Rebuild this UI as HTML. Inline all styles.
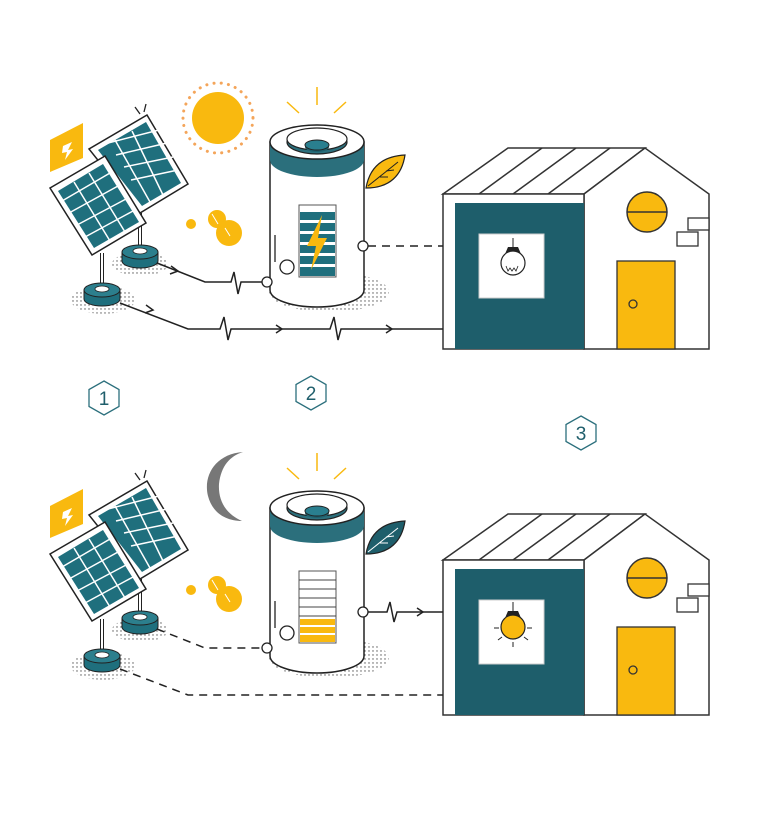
<!DOCTYPE html>
<html><head><meta charset="utf-8"><style>
html,body{margin:0;padding:0;background:#fff;width:768px;height:813px;overflow:hidden}
svg{display:block}
</style></head><body>
<svg width="768" height="813" viewBox="0 0 768 813" xmlns="http://www.w3.org/2000/svg">
<defs>
<pattern id="dots" width="4" height="4" patternUnits="userSpaceOnUse"><circle cx="1" cy="1" r="0.7" fill="#555"/></pattern>
<g id="panels">
  <polygon points="50,140 83,123 83,158 50,172" fill="#f9b90f"/>
  <polygon points="63,146 72,142 68,150 73,149 65,160 67,152 62,153" fill="#fff"/>
  <ellipse cx="103" cy="300" rx="32" ry="14" fill="url(#dots)"/>
  <ellipse cx="140" cy="264" rx="28" ry="12" fill="url(#dots)"/>
  <polygon points="147,115 89,149 140,213 188,184" fill="#fff" stroke="#222" stroke-width="1.5"/>
  <polygon points="146,122 98,150 142,206 181,183" fill="#1f6f7d"/>
  <g stroke="#fff" stroke-width="1.5">
   <line x1="108" y1="143" x2="159" y2="130"/><line x1="116" y1="155" x2="167" y2="143"/><line x1="124" y1="167" x2="173" y2="157"/><line x1="131" y1="180" x2="178" y2="170"/>
   <line x1="115" y1="140" x2="150" y2="202"/><line x1="132" y1="131" x2="163" y2="195"/>
  </g>
  <line x1="140" y1="213" x2="140" y2="248" stroke="#222" stroke-width="4"/><line x1="140" y1="213" x2="140" y2="248" stroke="#fff" stroke-width="2"/>
  <path d="M122 252 L122 261 A18 7 0 0 0 158 261 L158 252 Z" fill="#1f6f7d" stroke="#222" stroke-width="1"/>
  <ellipse cx="140" cy="252" rx="18" ry="7" fill="#2c7f8d" stroke="#222" stroke-width="1"/>
  <ellipse cx="140" cy="251" rx="7" ry="3" fill="#fff" stroke="#222" stroke-width="0.8"/>
  <polygon points="50,188 105,156 146,223 92,255" fill="#fff" stroke="#222" stroke-width="1.5"/>
  <polygon points="58,191 103,164 139,222 94,248" fill="#1f6f7d"/>
  <g stroke="#fff" stroke-width="1.5">
   <line x1="62" y1="201" x2="110" y2="173"/><line x1="69" y1="213" x2="118" y2="186"/><line x1="77" y1="225" x2="126" y2="199"/><line x1="85" y1="237" x2="133" y2="211"/>
   <line x1="74" y1="182" x2="110" y2="241"/><line x1="89" y1="173" x2="125" y2="232"/>
  </g>
  <line x1="102" y1="253" x2="102" y2="287" stroke="#222" stroke-width="4"/><line x1="102" y1="253" x2="102" y2="287" stroke="#fff" stroke-width="2"/>
  <path d="M84 290 L84 299 A18 7 0 0 0 120 299 L120 290 Z" fill="#1f6f7d" stroke="#222" stroke-width="1"/>
  <ellipse cx="102" cy="290" rx="18" ry="7" fill="#2c7f8d" stroke="#222" stroke-width="1"/>
  <ellipse cx="102" cy="289" rx="7" ry="3" fill="#fff" stroke="#222" stroke-width="0.8"/>
  <line x1="135" y1="107" x2="140" y2="114" stroke="#222" stroke-width="1.3"/><line x1="146" y1="104" x2="144" y2="112" stroke="#222" stroke-width="1.3"/>
  <circle cx="191" cy="224" r="5" fill="#f9b90f"/>
  <circle cx="217" cy="219" r="9" fill="#f9b90f"/>
  <circle cx="229" cy="233" r="13" fill="#f9b90f"/>
  <path d="M212 214 l6 10 M225 228 l5 8" stroke="#fff" stroke-width="1"/>
</g>
<g id="batt">
  <ellipse cx="329" cy="292" rx="60" ry="20" fill="url(#dots)"/>
  <path d="M270 142 L270 290 A47 17 0 0 0 364 290 L364 142 Z" fill="#fff" stroke="#222" stroke-width="1.5"/>
  <path d="M270 142 A47 17 0 0 0 364 142 L364 160 A47 17 0 0 1 270 160 Z" fill="#2b6f7c"/>
  <ellipse cx="317" cy="142" rx="47" ry="17" fill="#fff" stroke="#222" stroke-width="1.5"/>
  <ellipse cx="317" cy="142" rx="30" ry="12" fill="#2b6f7c" stroke="#222" stroke-width="1.2"/>
  <ellipse cx="317" cy="139" rx="30" ry="11" fill="#fff" stroke="#222" stroke-width="1.2"/>
  <ellipse cx="317" cy="147" rx="12" ry="5" fill="#1e5f6c"/>
  <ellipse cx="317" cy="145" rx="12" ry="5" fill="#2a7f8f" stroke="#222" stroke-width="1"/>
  <line x1="317" y1="87" x2="317" y2="105" stroke="#f9b90f" stroke-width="1.5"/>
  <line x1="287" y1="102" x2="299" y2="113" stroke="#f9b90f" stroke-width="1.5"/>
  <line x1="346" y1="102" x2="334" y2="113" stroke="#f9b90f" stroke-width="1.5"/>
  <line x1="275" y1="235" x2="275" y2="262" stroke="#222" stroke-width="1.3"/>
  <circle cx="287" cy="267" r="7" fill="#fff" stroke="#222" stroke-width="1.3"/>
  <circle cx="267" cy="282" r="5" fill="#fff" stroke="#222" stroke-width="1.3"/>
  <circle cx="363" cy="246" r="5" fill="#fff" stroke="#222" stroke-width="1.3"/>
</g>
<g id="house">
  <polygon points="443,194 508,148 645,148 584,194" fill="#fff" stroke="#333" stroke-width="1.5"/>
  <line x1="479" y1="194" x2="542" y2="148" stroke="#333" stroke-width="1.5"/>
  <line x1="513" y1="194" x2="576" y2="148" stroke="#333" stroke-width="1.5"/>
  <line x1="548" y1="194" x2="610" y2="148" stroke="#333" stroke-width="1.5"/>
  <polygon points="584,194 645,148 709,194 709,349 584,349" fill="#fff" stroke="#333" stroke-width="1.5"/>
  <rect x="443" y="194" width="141" height="155" fill="#fff" stroke="#333" stroke-width="1.5"/>
  <rect x="455" y="203" width="129" height="146" fill="#1e5e6b"/>
  <rect x="479" y="234" width="65" height="64" fill="#fff" stroke="#ccc" stroke-width="1"/>
  <circle cx="647" cy="212" r="20" fill="#f9b90f" stroke="#333" stroke-width="1.5"/>
  <line x1="627" y1="212" x2="667" y2="212" stroke="#333" stroke-width="1.5"/>
  <rect x="688" y="218" width="21" height="12" fill="#fff" stroke="#333" stroke-width="1.3"/>
  <rect x="677" y="232" width="21" height="14" fill="#fff" stroke="#333" stroke-width="1.3"/>
  <rect x="617" y="261" width="58" height="88" fill="#f9b90f" stroke="#333" stroke-width="1.3"/>
  <circle cx="633" cy="304" r="4" fill="none" stroke="#333" stroke-width="1.3"/>
</g>
</defs>

<use href="#panels"/>
<circle cx="218" cy="118" r="35" fill="none" stroke="#f4a55a" stroke-width="3" stroke-dasharray="0.1 7.2" stroke-linecap="round"/>
<circle cx="218" cy="118" r="26" fill="#f9b90f"/>
<use href="#batt"/>
<rect x="299" y="205" width="37" height="72" fill="#fff" stroke="#555" stroke-width="1"/>
<g fill="#1f6f7d"><rect x="300" y="212" width="35" height="8"/><rect x="300" y="223" width="35" height="8"/><rect x="300" y="234" width="35" height="8"/><rect x="300" y="245" width="35" height="8"/><rect x="300" y="256" width="35" height="8"/><rect x="300" y="267" width="35" height="9"/></g>
<polygon points="322,215 307,246 316,246 311,270 327,238 318,238" fill="#f9b90f"/>
<path d="M366 188 C370 165 385 156 405 155 C402 175 390 188 366 188 Z" fill="#f9b90f" stroke="#222" stroke-width="1.2"/>
<path d="M368 186 L398 162 M380 177 l8 0 M386 171 l8 -1" stroke="#222" stroke-width="1"/>
<use href="#house"/>
<line x1="513" y1="238" x2="513" y2="248" stroke="#222" stroke-width="1"/>
<path d="M505 254 L508 247 L518 247 L521 254 Z" fill="#222"/>
<circle cx="513" cy="263" r="12" fill="#fff" stroke="#222" stroke-width="1.2"/>
<path d="M506 266 l2 5 l2 -3 l2 3 l2 -3 l2 3 l2 -5" fill="none" stroke="#222" stroke-width="0.8"/>
<g fill="none" stroke="#222" stroke-width="1.5">
<path d="M157 263 L205 282 L231 282 L234 272 L238 294 L241 282 L262 282"/>
<path d="M120 303 L188 329 L220 329 L224 317 L228 340 L231 329 L330 329 L334 317 L338 340 L341 329 L443 329"/>
<path d="M171 266 l7 5 l-8 3 M146 305 l7 5 l-8 3 M276 325 l6 4 l-6 4 M386 325 l6 4 l-6 4"/>
<path d="M368 246 L443 246" stroke-dasharray="8 6"/>
</g>

<g fill="none" stroke="#2b6f7c" stroke-width="1.3">
<polygon points="104,381 119,389.5 119,406.5 104,415 89,406.5 89,389.5"/>
<polygon points="311,376 326,384.5 326,401.5 311,410 296,401.5 296,384.5"/>
<polygon points="581,416 596,424.5 596,441.5 581,450 566,441.5 566,424.5"/>
</g>
<g font-family="Liberation Sans, sans-serif" font-size="19" fill="#1f5e6b" text-anchor="middle">
<text x="104" y="405">1</text><text x="311" y="400">2</text><text x="581" y="440">3</text>
</g>

<g transform="translate(0,366)">
<use href="#panels"/>
<path d="M243 86 C215 88 203 110 208 130 C212 146 225 155 242 155 C226 148 218 135 219 118 C221 100 230 90 243 86 Z" fill="#777"/>
<use href="#batt"/>
<rect x="299" y="205" width="37" height="72" fill="#fff" stroke="#555" stroke-width="1"/>
<g stroke="#444" stroke-width="1"><line x1="299" y1="214" x2="336" y2="214"/><line x1="299" y1="223" x2="336" y2="223"/><line x1="299" y1="232" x2="336" y2="232"/><line x1="299" y1="241" x2="336" y2="241"/><line x1="299" y1="250" x2="336" y2="250"/></g>
<g fill="#f9b90f"><rect x="300" y="253" width="35" height="6"/><rect x="300" y="261" width="35" height="6"/><rect x="300" y="269" width="35" height="7"/></g>
<path d="M366 188 C370 165 385 156 405 155 C402 175 390 188 366 188 Z" fill="#1e5e6b" stroke="#222" stroke-width="1.2"/>
<path d="M368 186 L398 162 M380 177 l8 0 M386 171 l8 -1" stroke="#fff" stroke-width="1"/>
<use href="#house"/>
<line x1="513" y1="236" x2="513" y2="246" stroke="#222" stroke-width="1"/>
<path d="M505 252 L508 245 L518 245 L521 252 Z" fill="#222"/>
<circle cx="513" cy="261" r="12" fill="#f9b90f" stroke="#222" stroke-width="1.2"/>
<g stroke="#222" stroke-width="1"><line x1="494" y1="262" x2="499" y2="262"/><line x1="527" y1="262" x2="532" y2="262"/><line x1="498" y1="274" x2="502" y2="271"/><line x1="528" y1="274" x2="524" y2="271"/><line x1="513" y1="276" x2="513" y2="281"/></g>
<g fill="none" stroke="#222" stroke-width="1.5">
<path d="M157 263 L205 282 L262 282" stroke-dasharray="8 6"/>
<path d="M120 303 L188 329 L443 329" stroke-dasharray="8 6"/>
<path d="M368 246 L387 246 L390 236 L394 256 L397 246 L443 246"/>
<path d="M417 242 l6 4 l-6 4"/>
</g>
</g>
</svg>
</body></html>
